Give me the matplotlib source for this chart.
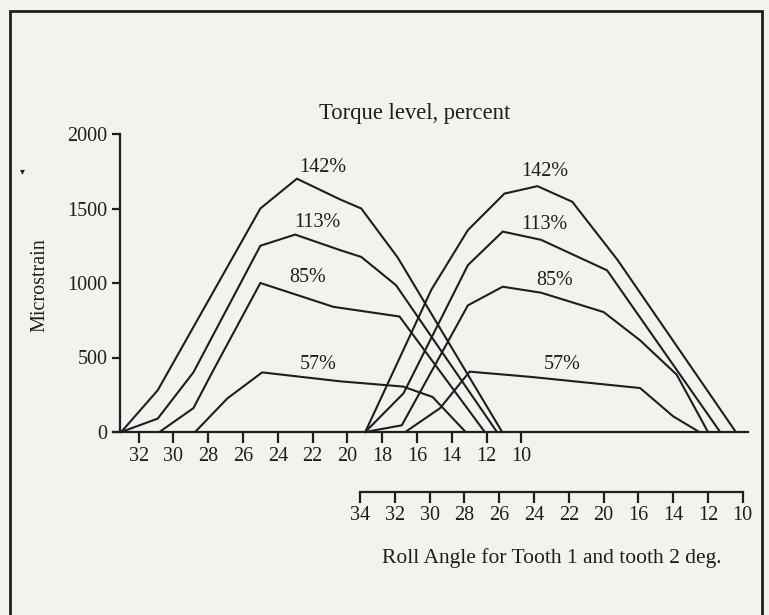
#!/usr/bin/env python3
"""Tooth root strain vs roll angle for four torque levels (redraw of a scanned figure)."""

import matplotlib

matplotlib.use("Agg")
import matplotlib.pyplot as plt
from matplotlib.patches import Rectangle

W, H = 769, 615
INK = "#1e1e1e"
PAPER = "#f2f2ee"

TORQUE_LABELS = ["142%", "113%", "85%", "57%"]

# Tooth 1: roll angle on the upper scale (deg) vs microstrain
T1_ANGLE = [
    [33.0, 30.9, 25.0, 22.9, 20.4, 19.2, 17.1, 11.1],
    [33.0, 30.9, 28.85, 25.0, 23.0, 20.4, 19.2, 17.2, 11.4],
    [30.8, 28.85, 27.7, 25.0, 20.8, 17.0, 12.1],
    [28.75, 26.9, 24.9, 20.4, 16.8, 15.1, 13.2],
]
T1_STRAIN = [
    [0, 280, 1500, 1700, 1560, 1500, 1170, 0],
    [0, 90, 400, 1250, 1325, 1220, 1175, 985, 0],
    [0, 160, 415, 1000, 840, 775, 0],
    [0, 225, 400, 340, 305, 235, 0],
]

# Tooth 2: roll angle on the lower scale (deg) vs microstrain
T2_ANGLE = [
    [33.7, 29.9, 27.8, 25.7, 23.8, 21.8, 19.2, 12.4],
    [33.7, 31.5, 27.8, 25.8, 23.6, 19.8, 13.3],
    [33.7, 31.6, 27.8, 25.8, 23.6, 20.0, 17.9, 15.8, 14.0],
    [31.4, 29.4, 27.7, 24.2, 17.9, 16.0, 14.5],
]
T2_STRAIN = [
    [0, 955, 1355, 1600, 1650, 1545, 1155, 0],
    [0, 260, 1120, 1345, 1290, 1085, 0],
    [0, 45, 850, 975, 935, 805, 615, 385, 0],
    [0, 160, 405, 370, 295, 105, 0],
]

# where the percent labels sit (upper-scale deg / lower-scale deg, microstrain)
T1_LABEL_AT = [(21.4, 1772), (21.7, 1409), (22.3, 1040), (21.7, 450)]
T2_LABEL_AT = [(23.4, 1745), (23.4, 1390), (22.8, 1020), (22.4, 450)]

UPPER_TICKS = [32, 30, 28, 26, 24, 22, 20, 18, 16, 14, 12, 10]
LOWER_TICKS = [34, 32, 30, 28, 26, 24, 22, 20, 18, 16, 14, 12]
LOWER_TICK_LABELS = ["34", "32", "30", "28", "26", "24", "22", "20", "16", "14", "12", "10"]
Y_TICKS = [0, 500, 1000, 1500, 2000]

# lower scale sits this many degrees above the upper one
SCALE_SHIFT = 14.73
X_LEFT, X_RIGHT = 33.47, -3.03
Y_SPINE_AT = 33.06

FONT = "Liberation Serif"
FS = 14.5


def px_rect(x0, y0, x1, y1):
    """Pixel box (top-left origin) -> figure fraction rect."""
    return [x0 / W, 1 - y1 / H, (x1 - x0) / W, (y1 - y0) / H]


def main():
    plt.rcParams["font.family"] = [FONT, "DejaVu Serif"]
    fig = plt.figure(figsize=(W / 100, H / 100), dpi=100, facecolor=PAPER)

    ax = fig.add_axes(px_rect(113, 134, 748, 432))
    ax.set_facecolor("none")
    ax.set_xlim(X_LEFT, X_RIGHT)
    ax.set_ylim(0, 2000)

    for xs, ys in zip(T1_ANGLE, T1_STRAIN):
        ax.plot(xs, ys, color=INK, lw=1.5, solid_joinstyle="miter", clip_on=False)
    for xs, ys in zip(T2_ANGLE, T2_STRAIN):
        ax.plot([x - SCALE_SHIFT for x in xs], ys, color=INK, lw=1.5,
                solid_joinstyle="miter", clip_on=False)

    for lab, (x, y) in zip(TORQUE_LABELS, T1_LABEL_AT):
        ax.text(x, y, lab, ha="center", va="center", fontsize=FS, color=INK)
    for lab, (x, y) in zip(TORQUE_LABELS, T2_LABEL_AT):
        ax.text(x - SCALE_SHIFT, y, lab, ha="center", va="center", fontsize=FS, color=INK)

    for s in ("top", "right"):
        ax.spines[s].set_visible(False)
    ax.spines["left"].set_position(("data", Y_SPINE_AT))
    for s in ("left", "bottom"):
        ax.spines[s].set_linewidth(1.6)
        ax.spines[s].set_color(INK)

    ax.set_xticks(UPPER_TICKS)
    ax.set_xticklabels([str(t) for t in UPPER_TICKS])
    ax.set_yticks(Y_TICKS)
    ax.tick_params(axis="x", direction="out", length=8, width=1.6, pad=3,
                   labelsize=FS, colors=INK)
    ax.tick_params(axis="y", direction="out", length=6, width=1.6, pad=3,
                   labelsize=FS, colors=INK)

    # second roll-angle scale (tooth 2)
    ax2 = fig.add_axes(px_rect(113, 491.9, 748, 492))
    ax2.set_facecolor("none")
    ax2.set_xlim(X_LEFT + SCALE_SHIFT, X_RIGHT + SCALE_SHIFT)
    ax2.set_yticks([])
    for s in ("top", "right", "left"):
        ax2.spines[s].set_visible(False)
    ax2.spines["bottom"].set_bounds(min(LOWER_TICKS), max(LOWER_TICKS))
    ax2.spines["bottom"].set_linewidth(1.6)
    ax2.spines["bottom"].set_color(INK)
    ax2.set_xticks(LOWER_TICKS)
    ax2.set_xticklabels(LOWER_TICK_LABELS)
    ax2.tick_params(axis="x", direction="out", length=8, width=1.6, pad=2,
                    labelsize=FS, colors=INK)

    fig.text(415 / W, 1 - 113 / H, "Torque level, percent", ha="center", va="center",
             fontsize=16.3, color=INK)
    fig.text(552 / W, 1 - 558 / H, "Roll Angle for Tooth 1 and tooth 2 deg.",
             ha="center", va="center", fontsize=15.5, color=INK)
    fig.text(40 / W, 1 - 285 / H, "Microstrain", rotation=90, ha="center", va="center",
             fontsize=FS, color=INK)
    fig.text(22 / W, 1 - 172 / H, "\u25be", ha="center", va="center", fontsize=7, color=INK)

    # scanned page frame
    fig.add_artist(Rectangle((10 / W, -0.05), (762 - 10) / W, 1.05 - 11 / H,
                             transform=fig.transFigure, fill=False, lw=2, ec=INK))

    fig.savefig("out.png", dpi=100, facecolor=PAPER)


if __name__ == "__main__":
    main()
